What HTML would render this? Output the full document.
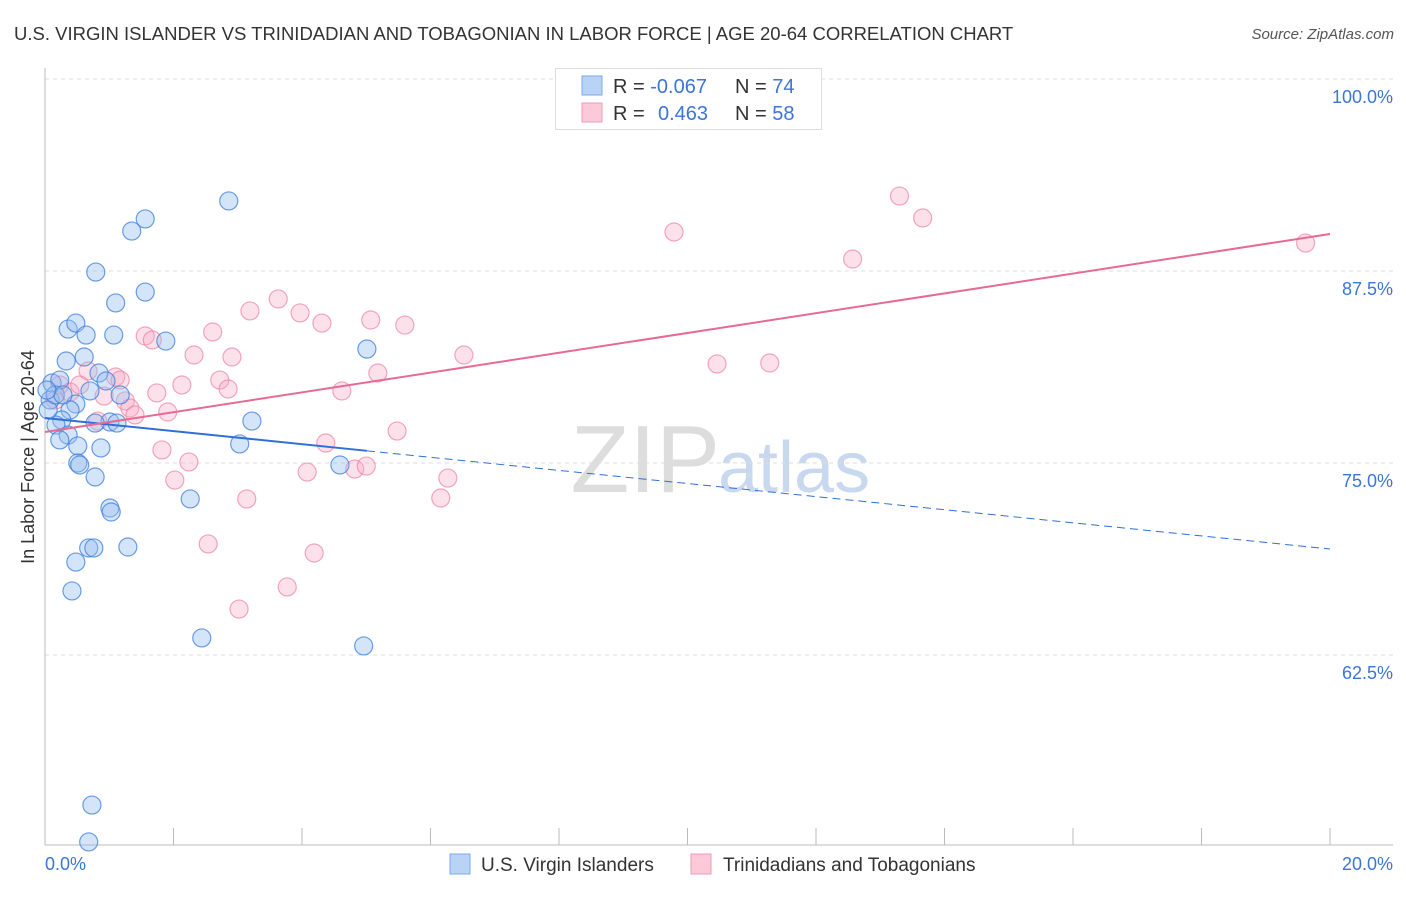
<!DOCTYPE html>
<html><head><meta charset="utf-8"><style>
body{margin:0;background:#fff;font-family:"Liberation Sans",sans-serif;}
svg text{font-family:"Liberation Sans",sans-serif;}
</style></head><body>
<svg id="chart" width="1406" height="892" xmlns="http://www.w3.org/2000/svg">
<text x="14" y="40" font-size="18.5" fill="#333">U.S. VIRGIN ISLANDER VS TRINIDADIAN AND TOBAGONIAN IN LABOR FORCE | AGE 20-64 CORRELATION CHART</text>
<text x="1394" y="39" font-size="15" fill="#555" font-style="italic" text-anchor="end">Source: ZipAtlas.com</text>
<text x="720" y="492" font-size="96" fill="#ddd" text-anchor="end" font-family="Liberation Serif">ZIP</text>
<text x="718" y="492" font-size="72" fill="#c8d8ee">atlas</text>
<g id="grid"></g>
<g id="marks"></g>
<text transform="translate(34,457) rotate(-90)" font-size="18" fill="#333" text-anchor="middle">In Labor Force | Age 20-64</text>
<g>
<rect x="555.5" y="68.5" width="266" height="61" fill="#fff" stroke="#ddd"/>
<rect x="582" y="76" width="20" height="19" fill="#b9d3f5" stroke="#7aaaf0"/>
<rect x="582" y="103" width="20" height="19" fill="#fcc9d8" stroke="#f09ab6"/>
<text x="613" y="93" font-size="20" fill="#333">R = <tspan fill="#3b75d6">-0.067</tspan></text>
<text x="735" y="93" font-size="20" fill="#333">N = <tspan fill="#3b75d6">74</tspan></text>
<text x="613" y="120" font-size="20" fill="#333">R = <tspan fill="#3b75d6" x="658">0.463</tspan></text>
<text x="735" y="120" font-size="20" fill="#333">N = <tspan fill="#3b75d6">58</tspan></text>
</g>
<g>
<rect x="450" y="854" width="20" height="20" fill="#b9d3f5" stroke="#7aaaf0"/>
<text x="481" y="871" font-size="19" fill="#333">U.S. Virgin Islanders</text>
<rect x="691" y="854" width="20" height="20" fill="#fcc9d8" stroke="#f09ab6"/>
<text x="723" y="871" font-size="19" fill="#333">Trinidadians and Tobagonians</text>
</g>
</svg>
<script>
const blueX=[2.86,1.56,1.35,0.79,1.56,1.10,0.36,0.48,0.64,1.07,1.88,5.01,0.33,0.61,0.84,0.95,0.11,0.23,0.70,1.17,0.48,0.39,0.26,1.01,0.78,1.12,0.17,0.36,0.23,0.51,0.87,3.03,3.22,0.51,0.54,0.78,4.59,2.26,1.01,1.03,0.68,0.76,1.29,0.48,0.42,2.44,4.96,0.73,0.68,0.08,0.05,0.16,0.28,0.03];
const blueY=[92.06,90.89,90.10,87.43,86.13,85.42,83.72,84.11,83.33,83.33,82.94,82.42,81.64,81.90,80.86,80.34,80.21,80.40,79.69,79.43,78.84,78.45,77.80,77.67,77.60,77.60,77.47,76.82,76.50,76.11,75.98,76.24,77.73,75.00,74.87,74.09,74.87,72.66,72.07,71.81,69.47,69.47,69.53,68.55,66.67,63.61,63.09,52.73,50.33,79.10,78.45,79.43,79.43,79.75];
const pinkX=[13.30,13.66,9.79,12.57,19.62,3.63,3.19,3.97,4.31,5.07,5.60,2.61,1.56,1.67,2.32,2.91,6.52,10.46,11.28,0.67,1.10,1.17,2.72,2.13,2.85,1.74,4.62,5.18,0.92,1.25,1.32,1.40,1.91,0.82,5.48,4.37,1.82,2.24,2.02,4.08,4.82,5.00,6.27,6.16,3.14,2.54,4.19,3.77,3.02,0.23,0.16,0.39,0.54];
const pinkY=[92.38,90.95,90.04,88.28,89.32,85.68,84.90,84.77,84.11,84.31,83.98,83.53,83.27,83.01,82.03,81.90,82.03,81.45,81.51,80.99,80.60,80.40,80.40,80.08,79.82,79.56,79.69,80.86,79.36,79.04,78.58,78.13,78.32,77.73,77.08,76.30,75.85,75.07,73.89,74.41,74.61,74.80,74.02,72.72,72.66,69.73,69.14,66.93,65.49,80.08,79.10,79.62,80.08];
const yTicks=[100,87.5,75,62.5];
const yTickLabels=["100.0%","87.5%","75.0%","62.5%"];
const xTickVals=[0,2,4,6,8,10,12,14,16,18,20];
const xLabels=["0.0%","20.0%"];
const blueTrend=[77.93,69.40], blueSolidEnd=5.01;
const pinkTrend=[77.02,89.91];
const NS="http://www.w3.org/2000/svg";
const X=v=>45+v/20*1285, Y=v=>79+(100-v)*15.36;
function mk(t,a,p){const e=document.createElementNS(NS,t);for(const k in a)e.setAttribute(k,a[k]);p.appendChild(e);return e;}
const grid=document.getElementById('grid'), marks=document.getElementById('marks');
yTicks.forEach((t,i)=>{
 const l=mk('line',{x1:45,x2:1393,y1:Y(t),y2:Y(t),stroke:'#ddd','stroke-dasharray':'4,4'},grid);
 
 
 const tx=mk('text',{x:1393,y:Y(t)+24,'font-size':18,fill:'#3b75d6','text-anchor':'end'},grid);
 tx.textContent=yTickLabels[i];
 
 
});
const ax=mk('line',{x1:45,x2:45,y1:68,y2:845,stroke:'#bbb'},grid);


const bx=mk('line',{x1:45,x2:1393,y1:845,y2:845,stroke:'#bbb'},grid);


xTickVals.forEach(v=>{const t=mk('line',{x1:X(v),x2:X(v),y1:828,y2:845,stroke:'#bbb'},grid);
 
 });
[[0,'start',45],[20,'end',1393]].forEach((d,i)=>{const t=mk('text',{x:d[2],y:870,'font-size':18,fill:'#3b75d6','text-anchor':d[1]},grid);t.textContent=xLabels[i];
 
 });
pinkX.forEach((x,i)=>{const c=mk('circle',{cx:X(x),cy:Y(pinkY[i]),r:9,fill:'rgba(248,170,195,0.35)',stroke:'rgba(236,130,165,0.7)','stroke-width':1.2},marks);
 
 });
blueX.forEach((x,i)=>{const c=mk('circle',{cx:X(x),cy:Y(blueY[i]),r:9,fill:'rgba(150,190,240,0.4)',stroke:'rgba(60,125,220,0.75)','stroke-width':1.2},marks);
 
 });
const bAt=v=>blueTrend[0]+(blueTrend[1]-blueTrend[0])*v/20;
const b1=mk('line',{x1:X(0),y1:Y(bAt(0)),x2:X(blueSolidEnd),y2:Y(bAt(blueSolidEnd)),stroke:'#2f6fd6','stroke-width':2},marks);


const b2=mk('line',{x1:X(blueSolidEnd),y1:Y(bAt(blueSolidEnd)),x2:X(20),y2:Y(bAt(20)),stroke:'#2f6fd6','stroke-width':1,'stroke-dasharray':'8,5'},marks);


const p1=mk('line',{x1:X(0),y1:Y(pinkTrend[0]),x2:X(20),y2:Y(pinkTrend[1]),stroke:'#e66a93','stroke-width':2},marks);


</script>
</body></html>
